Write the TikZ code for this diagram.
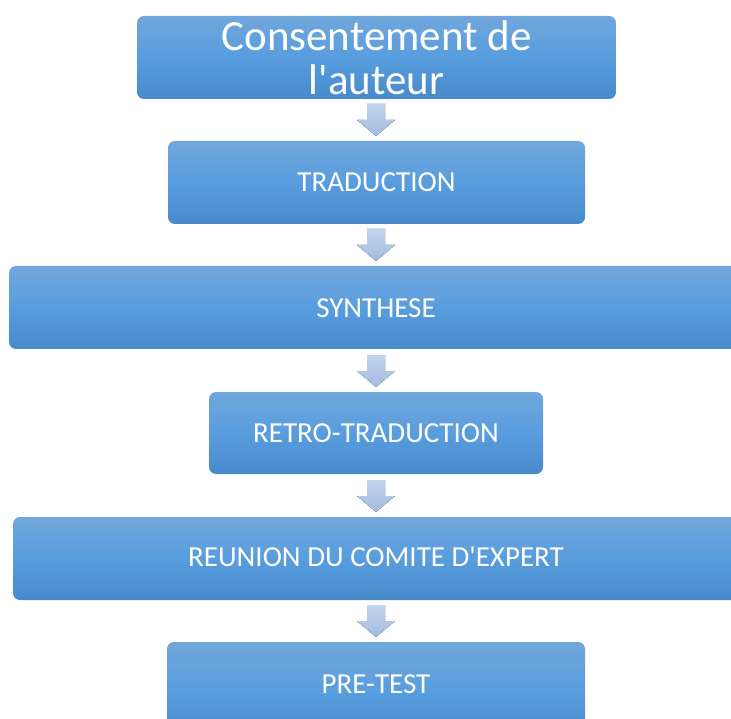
\documentclass[tikz,border=0pt]{standalone}
\usepackage{fontspec}
\setmainfont{Carlito}
\begin{document}
\begin{tikzpicture}[x=1pt,y=-1pt,
  stepbox/.style={rectangle, rounded corners=7pt, draw=none,
    top color=boxtop, bottom color=boxbot, middle color=boxmid,
    text=white, font=\fontsize{29}{32}\selectfont, inner sep=0pt},
  steptext/.style={text=white, font=\fontsize{29}{32}\selectfont},
  downarr/.pic={\fill[top color=arrtop, bottom color=arrbot]
    (-9,0)--(9,0)--(9,16)--(19,16)--(0,32)--(-19,16)--(-9,16)--cycle;}
]
\definecolor{boxtop}{RGB}{113,167,220}
\definecolor{boxmid}{RGB}{88,157,222}
\definecolor{boxbot}{RGB}{71,138,203}
\definecolor{arrtop}{RGB}{194,213,238}
\definecolor{arrbot}{RGB}{163,187,224}
\useasboundingbox (0,0) rectangle (731,719);
\clip (0,0) rectangle (731,719);

\node[stepbox, minimum width=479pt, minimum height=83pt, align=center,
  font=\fontsize{43}{44}\selectfont] (b1) at (376.5,57.5) {Consentement de\\l\textquotesingle auteur};
\node[stepbox, minimum width=417pt, minimum height=83pt] (b2) at (376.5,182.5) {TRADUCTION};
\node[stepbox, minimum width=740pt, minimum height=83pt] (b3) at (379,307.5) {};
\node[steptext] (t3) at (376,308) {SYNTHESE};
\node[stepbox, minimum width=334pt, minimum height=82pt] (b4) at (376,433) {RETRO-TRADUCTION};
\node[stepbox, minimum width=736pt, minimum height=83pt] (b5) at (381,558.5) {};
\node[steptext] (t5) at (376,557) {REUNION DU COMITE D\textquotesingle EXPERT};
\node[stepbox, minimum width=418pt, minimum height=100pt] (b6) at (376,692) {};
\node[steptext] (t6) at (376,684) {PRE-TEST};

\pic at (376,104) {downarr};
\pic at (376,229) {downarr};
\pic at (376,355) {downarr};
\pic at (376,480) {downarr};
\pic at (376,605) {downarr};
\end{tikzpicture}
\end{document}
